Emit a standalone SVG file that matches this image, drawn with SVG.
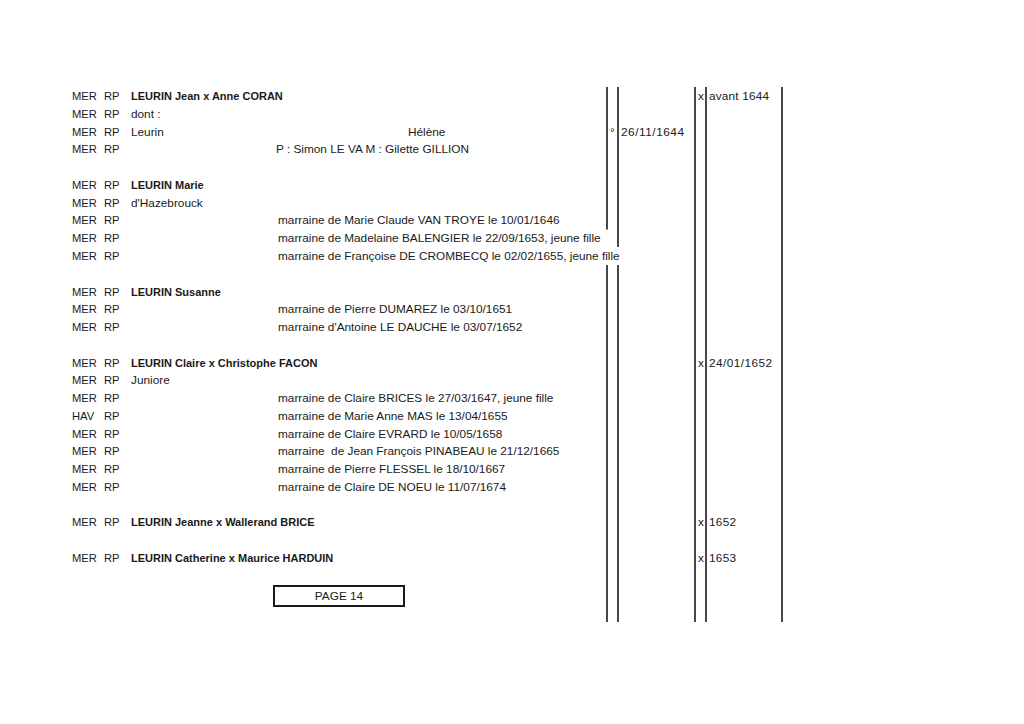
<svg xmlns="http://www.w3.org/2000/svg" width="1024" height="724" viewBox="0 0 1024 724">
<style>
text{font-family:"Liberation Sans",Arial,sans-serif;font-size:11.8px;fill:#1a1a1a}
.c{font-size:11.2px}
.b{font-weight:bold;font-size:11px}
.rule{stroke:#1a1a1a;stroke-width:1.6;fill:none}
</style>
<rect width="1024" height="724" fill="#fff"/>
<g id="grid-lines">
<line class="rule" x1="607" y1="87" x2="607" y2="229.5"/>
<line class="rule" x1="607" y1="265" x2="607" y2="622"/>
<line class="rule" x1="618" y1="87" x2="618" y2="247"/>
<line class="rule" x1="618" y1="265" x2="618" y2="622"/>
<line class="rule" x1="695" y1="87" x2="695" y2="622"/>
<line class="rule" x1="706" y1="87" x2="706" y2="622"/>
<line class="rule" x1="782" y1="87" x2="782" y2="622"/>
</g>
<g id="codes">
<text class="c" x="72" y="100">MER</text><text class="c" x="104" y="100">RP</text>
<text class="c" x="72" y="118">MER</text><text class="c" x="104" y="118">RP</text>
<text class="c" x="72" y="135.5">MER</text><text class="c" x="104" y="135.5">RP</text>
<text class="c" x="72" y="153.3">MER</text><text class="c" x="104" y="153.3">RP</text>
<text class="c" x="72" y="188.9">MER</text><text class="c" x="104" y="188.9">RP</text>
<text class="c" x="72" y="206.6">MER</text><text class="c" x="104" y="206.6">RP</text>
<text class="c" x="72" y="224.4">MER</text><text class="c" x="104" y="224.4">RP</text>
<text class="c" x="72" y="242.2">MER</text><text class="c" x="104" y="242.2">RP</text>
<text class="c" x="72" y="259.9">MER</text><text class="c" x="104" y="259.9">RP</text>
<text class="c" x="72" y="295.5">MER</text><text class="c" x="104" y="295.5">RP</text>
<text class="c" x="72" y="313.2">MER</text><text class="c" x="104" y="313.2">RP</text>
<text class="c" x="72" y="331">MER</text><text class="c" x="104" y="331">RP</text>
<text class="c" x="72" y="366.6">MER</text><text class="c" x="104" y="366.6">RP</text>
<text class="c" x="72" y="384.3">MER</text><text class="c" x="104" y="384.3">RP</text>
<text class="c" x="72" y="402.1">MER</text><text class="c" x="104" y="402.1">RP</text>
<text class="c" x="72" y="419.8">HAV</text><text class="c" x="104" y="419.8">RP</text>
<text class="c" x="72" y="437.6">MER</text><text class="c" x="104" y="437.6">RP</text>
<text class="c" x="72" y="455.4">MER</text><text class="c" x="104" y="455.4">RP</text>
<text class="c" x="72" y="473.1">MER</text><text class="c" x="104" y="473.1">RP</text>
<text class="c" x="72" y="490.9">MER</text><text class="c" x="104" y="490.9">RP</text>
<text class="c" x="72" y="526.4">MER</text><text class="c" x="104" y="526.4">RP</text>
<text class="c" x="72" y="562">MER</text><text class="c" x="104" y="562">RP</text>
</g>
<g id="family-jean">
<text class="b" x="131" y="100">LEURIN Jean x Anne CORAN</text>
<text x="698" y="100">x</text><text x="709" y="100" textLength="60" lengthAdjust="spacing">avant 1644</text>
<text x="131" y="118">dont :</text>
<text x="131" y="135.5">Leurin</text>
<text x="408" y="135.5">Hélène</text>
<text x="610" y="135.5">°</text><text x="621" y="135.5" textLength="63" lengthAdjust="spacing">26/11/1644</text>
<text x="276" y="153.3">P : Simon LE VA M : Gilette GILLION</text>
</g>
<g id="marie">
<text class="b" x="131" y="188.9">LEURIN Marie</text>
<text x="131" y="206.6">d'Hazebrouck</text>
<text x="278" y="224.4">marraine de Marie Claude VAN TROYE le 10/01/1646</text>
<text x="278" y="242.2">marraine de Madelaine BALENGIER le 22/09/1653, jeune fille</text>
<text x="278" y="259.9">marraine de Françoise DE CROMBECQ le 02/02/1655, jeune fille</text>
</g>
<g id="susanne">
<text class="b" x="131" y="295.5">LEURIN Susanne</text>
<text x="278" y="313.2">marraine de Pierre DUMAREZ le 03/10/1651</text>
<text x="278" y="331">marraine d'Antoine LE DAUCHE le 03/07/1652</text>
</g>
<g id="claire">
<text class="b" x="131" y="366.6">LEURIN Claire x Christophe FACON</text>
<text x="698" y="366.6">x</text><text x="709" y="366.6" textLength="63" lengthAdjust="spacing">24/01/1652</text>
<text x="131" y="384.3">Juniore</text>
<text x="278" y="402.1">marraine de Claire BRICES le 27/03/1647, jeune fille</text>
<text x="278" y="419.8">marraine de Marie Anne MAS le 13/04/1655</text>
<text x="278" y="437.6">marraine de Claire EVRARD le 10/05/1658</text>
<text x="278" y="455.4" xml:space="preserve">marraine  de Jean François PINABEAU le 21/12/1665</text>
<text x="278" y="473.1">marraine de Pierre FLESSEL le 18/10/1667</text>
<text x="278" y="490.9">marraine de Claire DE NOEU le 11/07/1674</text>
</g>
<g id="jeanne">
<text class="b" x="131" y="526.4">LEURIN Jeanne x Wallerand BRICE</text>
<text x="698" y="526.4">x</text><text x="709" y="526.4" textLength="27" lengthAdjust="spacing">1652</text>
</g>
<g id="catherine">
<text class="b" x="131" y="562">LEURIN Catherine x Maurice HARDUIN</text>
<text x="698" y="562">x</text><text x="709" y="562" textLength="27" lengthAdjust="spacing">1653</text>
</g>
<g id="page-box">
<rect x="274" y="586" width="130" height="20" fill="none" stroke="#1a1a1a" stroke-width="2"/>
<text x="339" y="600" text-anchor="middle">PAGE 14</text>
</g>
</svg>
